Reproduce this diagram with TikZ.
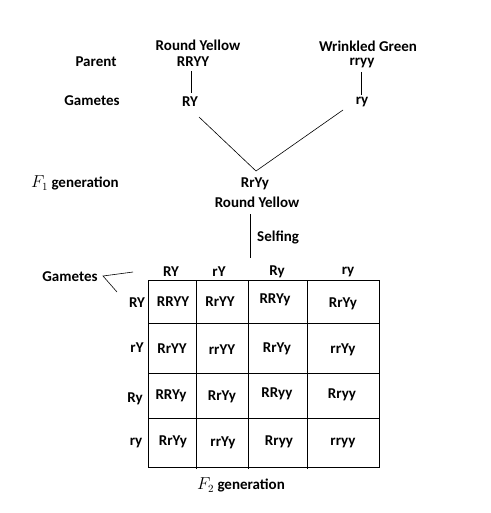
\documentclass[tikz,border=0pt]{standalone}
\usepackage{fontspec}
\setmainfont{Carlito}
\begin{document}
\begin{tikzpicture}[x=1pt,y=-1pt,
  txt/.style={font=\bfseries\fontsize{15}{17}\selectfont, inner sep=0pt, anchor=center},
  ln/.style={draw=black, line width=0.9pt}]
\useasboundingbox (0,0) rectangle (490,513);
\fill[white] (0,0) rectangle (490,513);
% top
\node[txt] (ry1) at (198,45) {Round Yellow};
\node[txt] (p1) at (193,62) {RRYY};
\node[txt] (wg) at (368,46) {Wrinkled Green};
\node[txt] (p2) at (362,63) {rryy};
\node[txt] (parent) at (96,62) {Parent};
\node[txt] (gam) at (92,101) {Gametes};
\node[txt] (g1) at (190,102) {RY};
\node[txt] (g2) at (362,102) {ry};
\coordinate (v1a) at (191,71); \coordinate (v1b) at (191,93);
\coordinate (v2a) at (361,72); \coordinate (v2b) at (361,95);
\draw[ln] (v1a) -- (v1b);
\draw[ln] (v2a) -- (v2b);
\coordinate (d1) at (199,117); \coordinate (d2) at (343,110); \coordinate (apex) at (256,171);
\draw[line width=0.6pt] (d1) -- (apex) -- (d2);
% F1
\node[txt, anchor=west] (f1) at (31,183) {\fontsize{16}{18}\selectfont$F_{1}$\fontsize{15}{17}\selectfont\ generation};
\node[txt] (rryy1) at (255,184) {RrYy};
\node[txt] (ryl) at (257,202) {Round Yellow};
\coordinate (s1) at (250,214); \coordinate (s2) at (250,258);
\draw[ln] (s1) -- (s2);
\node[txt, anchor=west] (self) at (257,237) {Selfing};
% gametes left
\node[txt] (gl) at (70,277) {Gametes};
\coordinate (ga) at (103,276); \coordinate (gb) at (133,272); \coordinate (gc) at (117,292);
\draw[line width=0.6pt] (gb) -- (ga) -- (gc);
% headers
\node[txt] (c1) at (171,272) {RY};
\node[txt] (c2) at (219,272) {rY};
\node[txt] (c3) at (277,272) {Ry};
\node[txt] (c4) at (348,272) {ry};
\node[txt] (r1) at (137,303) {RY};
\node[txt] (r2) at (137,348) {rY};
\node[txt] (r3) at (135,399) {Ry};
\node[txt] (r4) at (136,443) {ry};
% grid
\draw[ln] (148,280) rectangle (379,467);
\foreach \x in {196,248,307} \draw[ln] (\x,280) -- (\x,469);
\foreach \y in {323,373,418} \draw[ln] (148,\y) -- (380,\y);
% cells
\node[txt] (a11) at (173,302) {RRYY};
\node[txt] (a12) at (220,302) {RrYY};
\node[txt] (a13) at (275,300) {RRYy};
\node[txt] (a14) at (343,304) {RrYy};
\node[txt] (a21) at (172,349) {RrYY};
\node[txt] (a22) at (222,350) {rrYY};
\node[txt] (a23) at (277,349) {RrYy};
\node[txt] (a24) at (343,350) {rrYy};
\node[txt] (a31) at (171,396) {RRYy};
\node[txt] (a32) at (222,397) {RrYy};
\node[txt] (a33) at (277,394) {RRyy};
\node[txt] (a34) at (342,395) {Rryy};
\node[txt] (a41) at (173,442) {RrYy};
\node[txt] (a42) at (223,443) {rrYy};
\node[txt] (a43) at (279,442) {Rryy};
\node[txt] (a44) at (343,443) {rryy};
\node[txt] (f2) at (241,485) {\fontsize{16}{18}\selectfont$F_{2}$\fontsize{15}{17}\selectfont\ generation};
\end{tikzpicture}
\end{document}
